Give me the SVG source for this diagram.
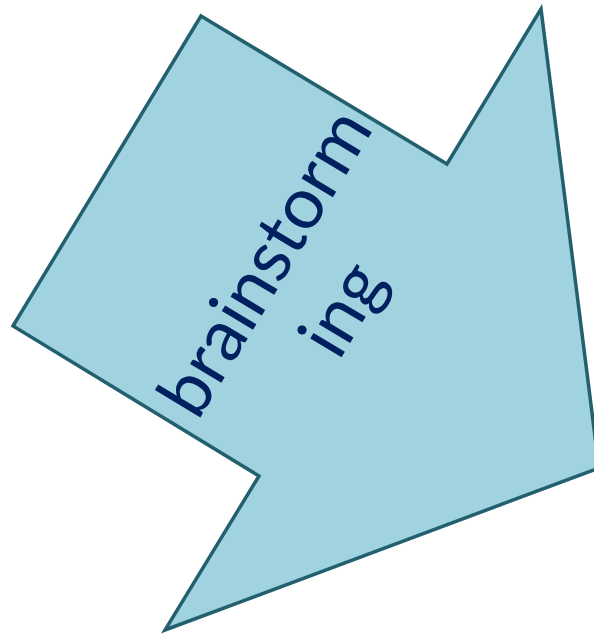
<svg xmlns="http://www.w3.org/2000/svg" width="594" height="636" viewBox="0 0 594 636">
<style>
.shape{fill:#a0d2df;stroke:#22606f;stroke-width:3.5;stroke-linejoin:miter}
.lbl{font-family:Lato,"Open Sans",sans-serif;font-size:72px;fill:#002060;text-anchor:middle}
</style>
<g id="arrow">
<polygon class="shape" points="201,16 447,164 541,9 599,468 165,630 259,476 13,326"/>
</g>
<g id="label" transform="translate(286,275) rotate(-59)">
<text class="lbl" x="0" y="0">brainstorm</text>
<text class="lbl" x="0" y="90">ing</text>
</g>
</svg>
